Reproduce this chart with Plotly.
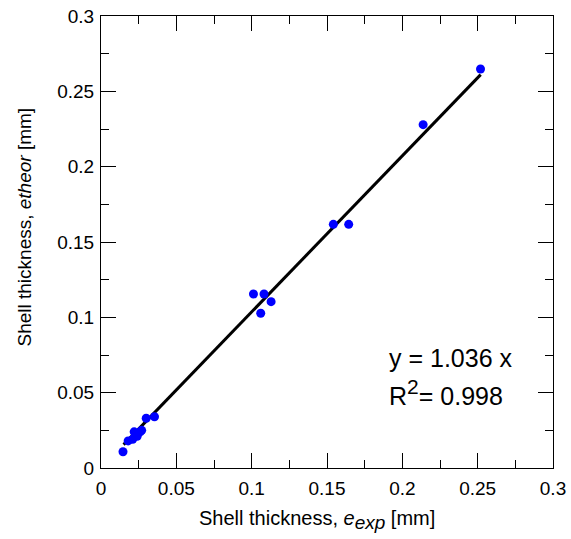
import plotly.graph_objects as go

# Data
e_exp = [0.0146, 0.018, 0.021, 0.022, 0.024, 0.026, 0.027, 0.030, 0.0355,
         0.1012, 0.1060, 0.1082, 0.1129, 0.1542, 0.1644, 0.2138, 0.2519]
e_theor = [0.0108, 0.018, 0.019, 0.024, 0.021, 0.024, 0.025, 0.033, 0.034,
           0.1155, 0.1027, 0.1155, 0.1104, 0.1617, 0.1617, 0.2279, 0.2648]
slope = 1.036
r2 = 0.998
fit_x = [0.015, 0.252]
fit_y = [slope * v for v in fit_x]

tick_vals = [0, 0.05, 0.1, 0.15, 0.2, 0.25, 0.3]
tick_text = ["0", "0.05", "0.1", "0.15", "0.2", "0.25", "0.3"]
x_title = "Shell thickness, <i>e<sub><span style='font-size:19px'>exp</span></sub></i> [mm]"
y_title = "Shell thickness, <i>etheor</i> [mm]"

font = "Liberation Sans, Arial, sans-serif"

fig = go.Figure()
fig.add_trace(go.Scatter(x=fit_x, y=fit_y, mode="lines",
                         line=dict(color="black", width=3), showlegend=False))
fig.add_trace(go.Scatter(x=e_exp, y=e_theor, mode="markers",
                         marker=dict(color="#0000FF", size=9), showlegend=False))

axis_common = dict(
    range=[0, 0.3], tickvals=tick_vals, ticktext=tick_text,
    ticks="inside", ticklen=15, tickwidth=1, tickcolor="black",
    minor=dict(dtick=0.025, ticks="inside", ticklen=8, tickwidth=1, tickcolor="black", showgrid=False),
    showline=True, linecolor="black", linewidth=1, mirror="ticks",
    showgrid=False, zeroline=False, automargin=False,
    tickfont=dict(family=font, size=19, color="black"),
)

fig.update_xaxes(**axis_common, ticklabelstandoff=3)
fig.update_yaxes(**axis_common, ticklabelstandoff=2)

# axis titles
fig.add_annotation(x=0.477, y=0, xref="paper", yref="paper", xanchor="center", yanchor="middle",
                   yshift=-52, text=x_title, showarrow=False,
                   font=dict(family=font, size=20, color="black"))
fig.add_annotation(x=0, y=0.532, xref="paper", yref="paper", xanchor="center", yanchor="middle",
                   xshift=-76, textangle=-90, text=y_title, showarrow=False,
                   font=dict(family=font, size=19, color="black"))

fig.add_annotation(x=0.190, y=0.073, xref="x", yref="y", xanchor="left", yanchor="middle",
                   text=f"y = {slope} x", showarrow=False,
                   font=dict(family=font, size=25, color="black"))
fig.add_annotation(x=0.190, y=0.050, xref="x", yref="y", xanchor="left", yanchor="middle",
                   text=f"R<sup><span style='font-size:21px'>2</span></sup>= {r2}", showarrow=False,
                   font=dict(family=font, size=25, color="black"))

fig.update_layout(width=571, height=539,
                  margin=dict(l=101, r=18, t=16, b=71),
                  plot_bgcolor="white", paper_bgcolor="white")

# remove the default page margin so the figure sits at the page's top-left corner
fig.write_html("out.html", config={"displayModeBar": False},
               post_script="document.body.style.margin='0';")
